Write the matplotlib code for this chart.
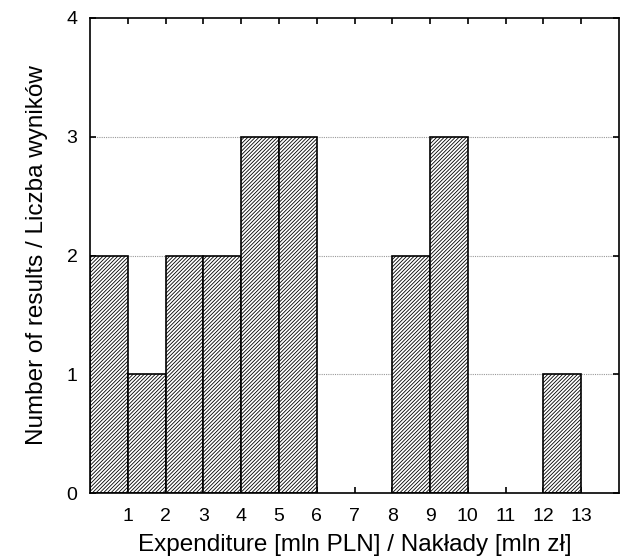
import matplotlib
matplotlib.use("Agg")
import matplotlib.pyplot as plt

plt.rcParams['font.family'] = ['Liberation Sans', 'DejaVu Sans']
plt.rcParams['hatch.linewidth'] = 0.6

bin_edges = list(range(0, 15))
counts = [2, 1, 2, 2, 3, 3, 0, 0, 2, 3, 0, 0, 1, 0]
xticks = list(range(1, 14))
yticks = [0, 1, 2, 3, 4]

fig = plt.figure(figsize=(6.23, 5.59), dpi=100)
ax = fig.add_axes([90/623, 1-493/559, (619-90)/623, (493-18)/559])

for y in [1, 2, 3]:
    ax.axhline(y, color='#999999', linestyle=(0, (1, 1)), linewidth=0.8, zorder=0)

lefts = bin_edges[:-1]
for l, c in zip(lefts, counts):
    if c > 0:
        ax.bar(l, c, width=1, align='edge', facecolor='white', edgecolor='black',
               hatch='/////////', linewidth=1.2, zorder=2)

ax.set_xlim(0, 14)
ax.set_ylim(0, 4)
ax.set_xticks(xticks)
ax.set_yticks(yticks)
ax.tick_params(direction='in', top=True, right=True, labelsize=14, length=4, width=1.2)
ax.tick_params(axis='x', pad=11)
ax.tick_params(axis='y', pad=9)
for s in ax.spines.values():
    s.set_linewidth(1.2)
ax.set_xlabel('Expenditure [mln PLN] / Nakłady [mln zł]', fontsize=17.5, labelpad=6)
ax.set_ylabel('Number of results / Liczba wyników', fontsize=17.5, labelpad=13)

fig.savefig('out.png', dpi=100)
